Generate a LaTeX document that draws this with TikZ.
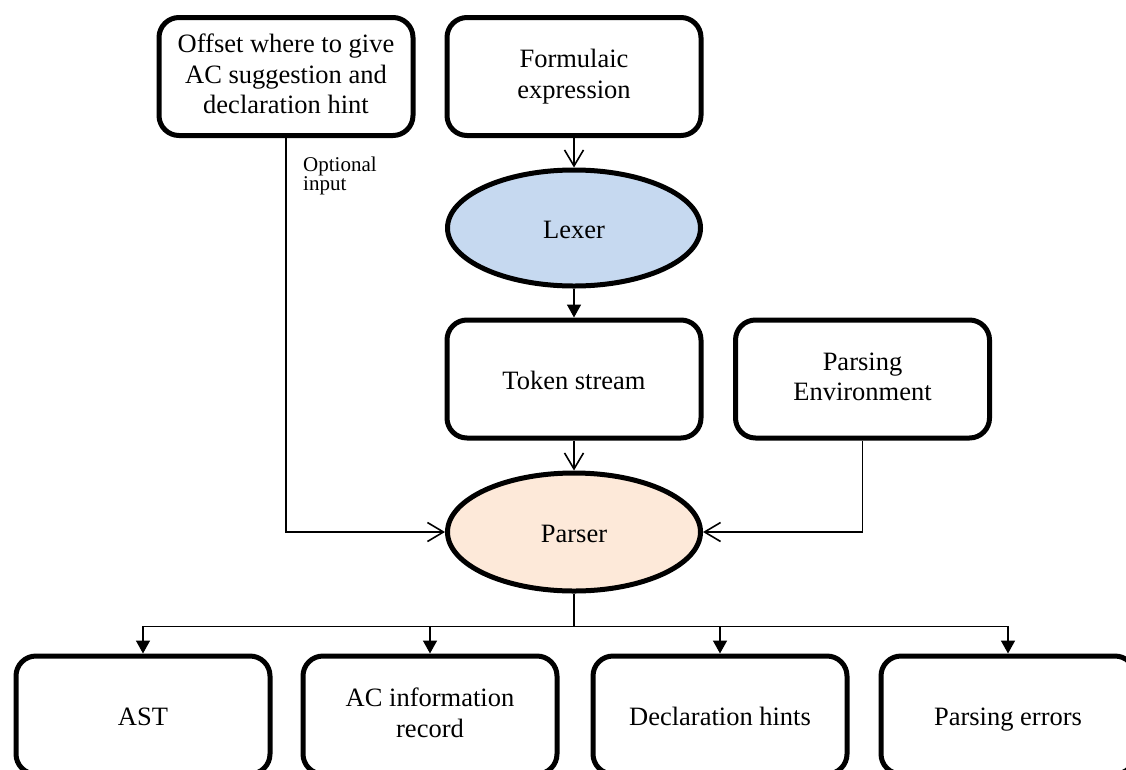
\documentclass[tikz,border=0pt]{standalone}
\usepackage{fontspec}
\setmainfont{Liberation Serif}
\usetikzlibrary{shapes.geometric,arrows.meta}

\definecolor{lexfill}{HTML}{C6D9F0}
\definecolor{parsefill}{HTML}{FDE9D9}

\tikzset{
  txt/.style={font=\fontsize{26.5}{30.5}\selectfont,
    execute at begin node={\rule{0pt}{26pt}},
    execute at end node={\rule[-5pt]{0pt}{5pt}}},
  box/.style={draw, line width=5pt, rounded corners=20pt, align=center,
    minimum width=254pt, minimum height=118pt, inner sep=0pt, txt},
  stage/.style={draw, ellipse, line width=5pt, align=center,
    minimum width=253pt, minimum height=116pt, inner sep=0pt, txt},
  link/.style={line width=1.6pt},
  openarrow/.style={link, -{Straight Barb[length=16pt,width=19pt,line width=1.6pt]}},
  fillarrow/.style={link, -{Triangle[length=13pt,width=14pt]}},
  note/.style={align=left, inner sep=0pt, font=\fontsize{21}{19}\selectfont}
}

\begin{document}
\begin{tikzpicture}[x=1pt,y=-1pt]
\useasboundingbox (0,0) rectangle (1126,769);

% inputs
\node[box] (offset) at (286,76.5) {Offset where to give\\AC suggestion and\\declaration hint};
\node[box] (formula) at (574,76.5) {Formulaic\\expression};

% lexing stage
\node[stage, fill=lexfill] (lexer) at (574,228) {Lexer};
\node[box] (tokens) at (574,379) {Token stream};
\node[box] (env) at (862.5,379) {Parsing\\Environment};

% parsing stage
\node[stage, fill=parsefill, minimum height=118pt] (parser) at (574,532) {Parser};

% outputs
\node[box] (ast) at (143,715) {AST};
\node[box] (acinfo) at (430,715) {AC information\\record};
\node[box] (dechints) at (720,715) {Declaration hints};
\node[box] (perrors) at (1008,715) {Parsing errors};

% connectors
\draw[openarrow] (formula.south) -- (lexer.north);
\draw[fillarrow] (lexer.south) -- (tokens.north);
\draw[openarrow] (tokens.south) -- (parser.north);
\draw[openarrow] (offset.south) |- (parser.west);
\draw[openarrow] (env.south) |- (parser.east);
\node[note, anchor=base west] (optlabel) at (303,190) {Optional\\input};

\draw[link] (parser.south) -- ++(0,33) coordinate (bus);
\draw[fillarrow] (bus) -| (ast.north);
\draw[fillarrow] (bus) -| (acinfo.north);
\draw[fillarrow] (bus) -| (dechints.north);
\draw[fillarrow] (bus) -| (perrors.north);
\end{tikzpicture}
\end{document}
